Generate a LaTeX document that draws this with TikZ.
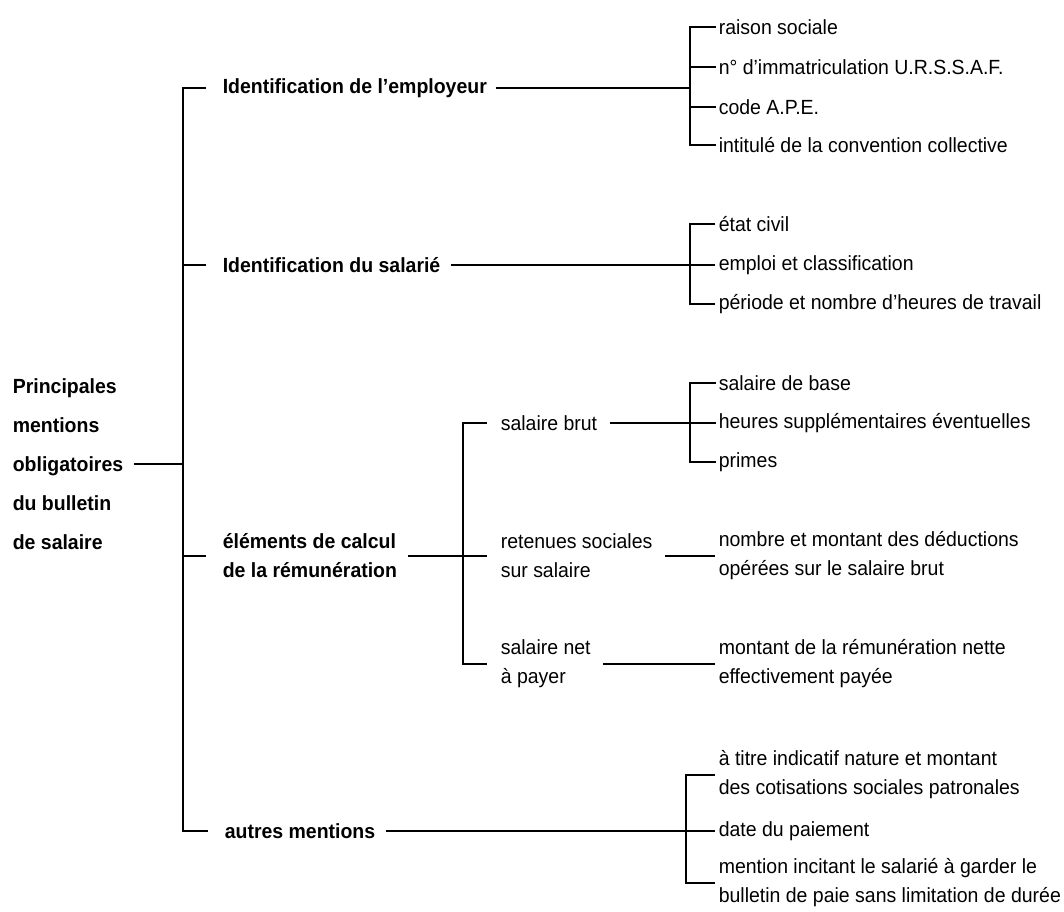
\documentclass[tikz,border=0pt]{standalone}
\usepackage{fontspec}
\setmainfont{Liberation Sans}[FakeStretch=0.95]
\begin{document}
\begin{tikzpicture}[x=1pt,y=-1pt,line width=1.6pt,
  lab/.style={anchor=west,inner sep=0pt,align=left,font=\fontsize{20.5}{29}\selectfont},
  blab/.style={lab,font=\fontsize{20.5}{29}\selectfont\bfseries}]
\useasboundingbox (0,0) rectangle (1064,911);
\fill[white] (0,0) rectangle (1064,911);
\coordinate (tx) at (183,0);
\coordinate (bx) at (690,0);
\coordinate (bx2) at (686,0);
\coordinate (sx) at (463,0);
% root
\node[blab,font=\fontsize{20.5}{39}\selectfont\bfseries] (root) at (12,464) {Principales\\mentions\\obligatoires\\du bulletin\\de salaire};
% level 1
\node[blab] (emp) at (222,88) {Identification de l’employeur};
\node[blab] (sal) at (222,265) {Identification du salarié};
\node[blab] (elem) at (222,556) {éléments de calcul\\de la rémunération};
\node[blab] (aut) at (224,831) {autres mentions};
% employer leaves
\node[lab] (rs) at (718,27) {raison sociale};
\node[lab] (imm) at (718,67) {n° d’immatriculation U.R.S.S.A.F.};
\node[lab] (ape) at (718,107) {code A.P.E.};
\node[lab] (int) at (718,145) {intitulé de la convention collective};
% salarie leaves
\node[lab] (ec) at (718,224) {état civil};
\node[lab] (emc) at (718,265) {emploi et classification};
\node[lab] (per) at (718,304) {période et nombre d’heures de travail};
% elements
\node[lab] (brut) at (500,423) {salaire brut};
\node[lab] (ret) at (500,556) {retenues sociales\\sur salaire};
\node[lab] (net) at (500,664) {salaire net\\à payer};
\node[lab] (sb) at (718,383) {salaire de base};
\node[lab] (hs) at (718,423) {heures supplémentaires éventuelles};
\node[lab] (pr) at (718,462) {primes};
\node[lab] (nmd) at (718,556) {nombre et montant des déductions\\opérées sur le salaire brut};
\node[lab] (mrn) at (718,664) {montant de la rémunération nette\\effectivement payée};
% autres
\node[lab] (tit) at (718,775) {à titre indicatif nature et montant\\des cotisations sociales patronales};
\node[lab] (date) at (718,831) {date du paiement};
\node[lab] (ment) at (718,883) {mention incitant le salarié à garder le\\bulletin de paie sans limitation de durée};
% root connector and trunk
\draw ([xshift=10pt]root.east) -- (root.east -| tx);
\draw ([xshift=-16pt]emp.west) -- (emp.west -| tx) -- (aut.west -| tx) -- ([xshift=-16pt]aut.west);
\draw ([xshift=-16pt]sal.west) -- (sal.west -| tx);
\draw ([xshift=-16pt]elem.west) -- (elem.west -| tx);
% employer
\draw ([xshift=8pt]emp.east) -- (emp.east -| bx);
\draw ([xshift=-2pt]rs.west) -- (rs.west -| bx) -- (int.west -| bx) -- ([xshift=-2pt]int.west);
\draw (imm.west -| bx) -- ([xshift=-2pt]imm.west);
\draw (ape.west -| bx) -- ([xshift=-2pt]ape.west);
% salarie
\draw ([xshift=10pt]sal.east) -- ([xshift=-3pt]emc.west);
\draw ([xshift=-3pt]ec.west) -- (ec.west -| bx) -- (per.west -| bx) -- ([xshift=-3pt]per.west);
% elements
\draw ([xshift=10pt]elem.east) -- ([xshift=-13pt]ret.west);
\draw ([xshift=-13pt]brut.west) -- (brut.west -| sx) -- (net.west -| sx) -- ([xshift=-13pt]net.west);
\draw ([xshift=12pt]brut.east) -- ([xshift=-2pt]hs.west);
\draw ([xshift=-2pt]sb.west) -- (sb.west -| bx) -- (pr.west -| bx) -- ([xshift=-2pt]pr.west);
\draw ([xshift=12pt]ret.east) -- ([xshift=-3pt]nmd.west);
\draw ([xshift=12pt]net.east) -- ([xshift=-3pt]mrn.west);
% autres
\draw ([xshift=10pt]aut.east) -- ([xshift=-3pt]date.west);
\draw ([xshift=-3pt]tit.west) -- (tit.west -| bx2) -- (ment.west -| bx2) -- ([xshift=-3pt]ment.west);
\end{tikzpicture}
\end{document}
